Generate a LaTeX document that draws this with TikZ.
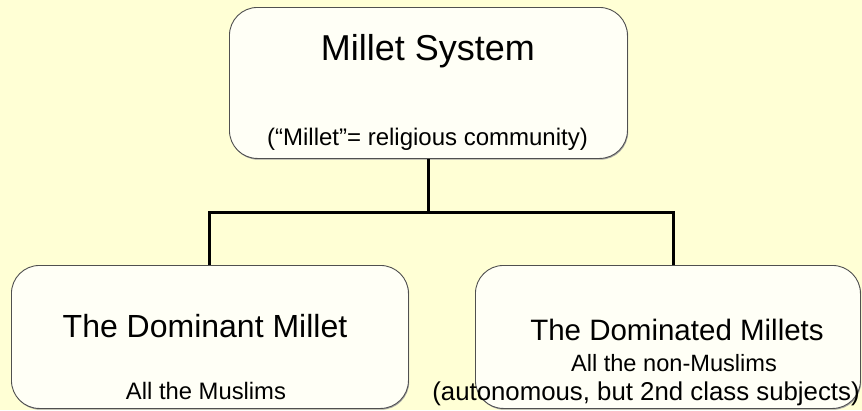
\documentclass[tikz,border=0pt]{standalone}
\usepackage{fontspec}
\setmainfont{Liberation Sans}
\definecolor{bgyellow}{HTML}{FFFFD5}
\definecolor{boxfill}{HTML}{FFFFF6}
\definecolor{boxline}{HTML}{505050}
\begin{document}
\begin{tikzpicture}[x=1pt,y=-1pt,
  box/.style={draw=boxline, line width=0.9pt, fill=boxfill, rounded corners=28pt,
    rectangle, inner sep=0pt, anchor=north west},
  shadowbox/.style={fill=black!35, rounded corners=28pt, rectangle, inner sep=0pt, anchor=north west},
  txt/.style={anchor=base, inner sep=0pt},
  conn/.style={line width=3pt, black}]
\fill[bgyellow] (0,0) rectangle (862,410);
\useasboundingbox (0,0) rectangle (862,410);
% shadows
\node[shadowbox, minimum width=398pt, minimum height=151pt] (topsh) at (230,8.5) {};
\node[shadowbox, minimum width=397pt, minimum height=143pt] (leftsh) at (12,266.5) {};
\node[shadowbox, minimum width=385pt, minimum height=143pt] (rightsh) at (476,266.5) {};
% boxes
\node[box, minimum width=398pt, minimum height=151pt] (top) at (229,7) {};
\node[box, minimum width=397pt, minimum height=143pt] (left) at (11,265) {};
\node[box, minimum width=385pt, minimum height=143pt] (right) at (475,265) {};
% connectors
\coordinate (lj) at (209.5,212);
\coordinate (rj) at (673,212);
\draw[conn] (top.south) -- (top.south |- lj);
\draw[conn] (left.north -| lj) |- (rj) -- (rj |- right.north);
% texts
\node[txt, font=\fontsize{36}{40}\selectfont] (t1) at (428,60) {Millet System};
\node[txt, font=\fontsize{24}{28}\selectfont] (t2) at (427.5,145) {(“Millet”= religious community)};
\node[txt, font=\fontsize{32}{36}\selectfont] (l1) at (205,337) {The Dominant Millet};
\node[txt, font=\fontsize{23.8}{28}\selectfont] (l2) at (206,399) {All the Muslims};
\node[txt, font=\fontsize{29.5}{33}\selectfont] (r1) at (677,340) {The Dominated Millets};
\node[txt, font=\fontsize{23.6}{28}\selectfont] (r2) at (674,371) {All the non-Muslims};
\node[txt, font=\fontsize{25.8}{30}\selectfont] (r3) at (646,400) {(autonomous, but 2nd class subjects)};
\end{tikzpicture}
\end{document}
